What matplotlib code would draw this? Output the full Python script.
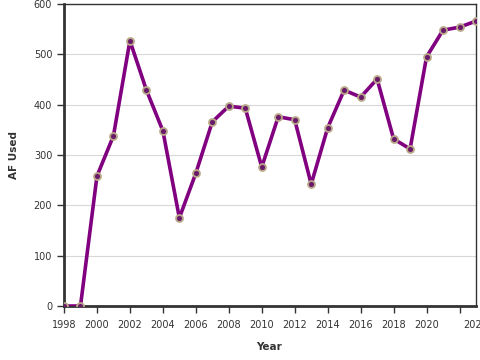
import matplotlib
matplotlib.use("Agg")
import matplotlib.pyplot as plt

years = list(range(1998, 2024))
af_used = [0, 0, 258, 338, 527, 429, 348, 175, 264, 366, 397, 393, 276, 376,
           370, 242, 354, 429, 415, 451, 332, 312, 495, 548, 554, 566]

xticks = list(range(1998, 2023, 2)) + [2023]
xtick_labels = [str(t) for t in range(1998, 2021, 2)] + ["", "2023"]
yticks = [0, 100, 200, 300, 400, 500, 600]

fig = plt.figure(figsize=(4.8, 3.6), dpi=100)
ax = fig.add_axes([64 / 480, 54 / 360, 412 / 480, 302 / 360])

ax.plot(years, af_used, color="#800080", lw=2.6, zorder=3,
        marker="o", ms=5, mfc="#6a1a6a", mec="#b8a888", mew=1.3)

ax.set_xlim(1998, 2023)
ax.set_ylim(0, 600)
ax.set_xticks(xticks)
ax.set_xticklabels(xtick_labels)
ax.set_yticks(yticks)
ax.grid(axis="y", color="#d8d8d8", lw=0.8)
ax.set_axisbelow(True)

for s in ["left", "bottom"]:
    ax.spines[s].set_linewidth(2)
    ax.spines[s].set_color("#333333")
for s in ["top", "right"]:
    ax.spines[s].set_linewidth(1)
    ax.spines[s].set_color("#333333")

ax.tick_params(labelsize=7, colors="#333333", length=5, width=1)
ax.tick_params(axis="x", pad=5)
# last label (2023) has no tick mark in the original
ax.xaxis.get_major_ticks()[-1].tick1line.set_visible(False)

ax.set_xlabel("Year", fontsize=7.5, fontweight="bold", color="#333333")
ax.set_ylabel("AF Used", fontsize=7.5, fontweight="bold", color="#333333")
ax.yaxis.set_label_coords(-0.11, 0.5)
ax.xaxis.set_label_coords(0.498, -0.12)

fig.savefig("out.png", dpi=100)
